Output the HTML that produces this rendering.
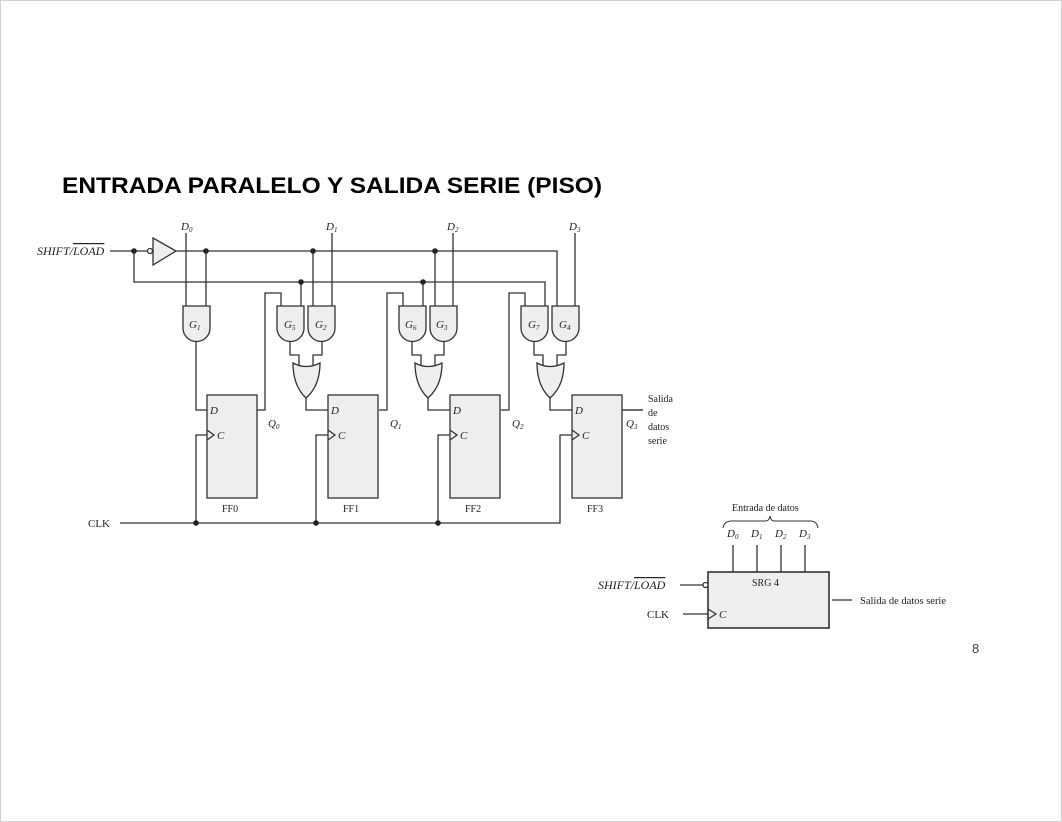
<!DOCTYPE html>
<html><head><meta charset="utf-8"><style>
html,body{margin:0;padding:0;background:#fff;}
svg{display:block;}
.t{font-family:"Liberation Serif",serif;fill:#222;}
.i{font-style:italic;}
</style></head><body>
<svg width="1062" height="822" viewBox="0 0 1062 822" xmlns="http://www.w3.org/2000/svg">
<rect x="0.5" y="0.5" width="1061" height="821" fill="#fff" stroke="#d0d0d0"/>
<text x="62" y="193" font-family="Liberation Sans, sans-serif" font-weight="bold" font-size="22" textLength="540" lengthAdjust="spacingAndGlyphs" fill="#000">ENTRADA PARALELO Y SALIDA SERIE (PISO)</text>

<g stroke="#333" stroke-width="1.3" fill="none">
<path d="M110 251 H148"/>
<circle cx="150" cy="251" r="2.5" fill="#fff"/>
<path d="M153 238 L176 251 L153 265 Z" fill="#eee"/>
<path d="M176 251 H557 V306"/>
<path d="M134 251 V282 H545 V306"/>
<path d="M186 233 V306"/>
<path d="M206 251 V306"/>
<path d="M183 306 V328 A13.5 13.5 0 0 0 210 328 V306 Z" fill="#eee"/>
<path d="M196 342 V410 H207"/>
<path d="M120 523 H560 V435 H572"/>
<path d="M196 523 V435 H207"/>
<rect x="207" y="395" width="50" height="103" fill="#eee"/>
<path d="M207 430 L214 435 L207 440"/>
</g>
<g>
<g stroke="#333" stroke-width="1.3" fill="none">
<path d="M257 410 H265 V293 H281 V306"/>
<path d="M332 233 V306"/>
<path d="M277 306 V328 A13.5 13.5 0 0 0 304 328 V306 Z" fill="#eee"/>
<path d="M308 306 V328 A13.5 13.5 0 0 0 335 328 V306 Z" fill="#eee"/>
<path d="M290 342 V355 H299 V366"/>
<path d="M322 342 V355 H313 V366"/>
<path d="M293 363 Q306 370 320 363 Q320 386 306 398 Q293 386 293 363 Z" fill="#eee"/>
<path d="M306 398 V410 H328"/>
<path d="M316 523 V435 H328"/>
<rect x="328" y="395" width="50" height="103" fill="#eee"/>
<path d="M328 430 L335 435 L328 440"/>
</g>
</g>
<g transform="translate(122,0)">
<g stroke="#333" stroke-width="1.3" fill="none">
<path d="M257 410 H265 V293 H281 V306"/>
<path d="M331 233 V306"/>
<path d="M277 306 V328 A13.5 13.5 0 0 0 304 328 V306 Z" fill="#eee"/>
<path d="M308 306 V328 A13.5 13.5 0 0 0 335 328 V306 Z" fill="#eee"/>
<path d="M290 342 V355 H299 V366"/>
<path d="M322 342 V355 H313 V366"/>
<path d="M293 363 Q306 370 320 363 Q320 386 306 398 Q293 386 293 363 Z" fill="#eee"/>
<path d="M306 398 V410 H328"/>
<path d="M316 523 V435 H328"/>
<rect x="328" y="395" width="50" height="103" fill="#eee"/>
<path d="M328 430 L335 435 L328 440"/>
<path d="M301 282 V306 M313 251 V306"/>
</g></g>
<g transform="translate(244,0)">
<g stroke="#333" stroke-width="1.3" fill="none">
<path d="M257 410 H265 V293 H281 V306"/>
<path d="M331 233 V306"/>
<path d="M277 306 V328 A13.5 13.5 0 0 0 304 328 V306 Z" fill="#eee"/>
<path d="M308 306 V328 A13.5 13.5 0 0 0 335 328 V306 Z" fill="#eee"/>
<path d="M290 342 V355 H299 V366"/>
<path d="M322 342 V355 H313 V366"/>
<path d="M293 363 Q306 370 320 363 Q320 386 306 398 Q293 386 293 363 Z" fill="#eee"/>
<path d="M306 398 V410 H328"/>
<rect x="328" y="395" width="50" height="103" fill="#eee"/>
<path d="M328 430 L335 435 L328 440"/>
<path d="M378 410 H399"/>
</g></g>
<g stroke="#333" stroke-width="1.3"><path d="M301 282 V306 M313 251 V306"/></g>
<g fill="#222">
<circle cx="134" cy="251" r="2.8"/><circle cx="206" cy="251" r="2.8"/><circle cx="313" cy="251" r="2.8"/><circle cx="435" cy="251" r="2.8"/>
<circle cx="301" cy="282" r="2.8"/><circle cx="423" cy="282" r="2.8"/>
<circle cx="196" cy="523" r="2.8"/><circle cx="316" cy="523" r="2.8"/><circle cx="438" cy="523" r="2.8"/>
</g>
<g class="t" font-size="11">
<text x="37" y="255" class="i" font-size="12">SHIFT/<tspan text-decoration="overline">LOAD</tspan></text>
<text x="88" y="527">CLK</text>
<text x="181" y="230" class="i">D<tspan font-size="7" dy="2">0</tspan></text>
<text x="326" y="230" class="i">D<tspan font-size="7" dy="2">1</tspan></text>
<text x="447" y="230" class="i">D<tspan font-size="7" dy="2">2</tspan></text>
<text x="569" y="230" class="i">D<tspan font-size="7" dy="2">3</tspan></text>
<text x="189" y="328" class="i">G<tspan font-size="7" dy="2">1</tspan></text>
<text x="284" y="328" class="i">G<tspan font-size="7" dy="2">5</tspan></text>
<text x="315" y="328" class="i">G<tspan font-size="7" dy="2">2</tspan></text>
<text x="405" y="328" class="i">G<tspan font-size="7" dy="2">6</tspan></text>
<text x="436" y="328" class="i">G<tspan font-size="7" dy="2">3</tspan></text>
<text x="528" y="328" class="i">G<tspan font-size="7" dy="2">7</tspan></text>
<text x="559" y="328" class="i">G<tspan font-size="7" dy="2">4</tspan></text>
<text x="210" y="414" class="i">D</text><text x="217" y="439" class="i">C</text>
<text x="331" y="414" class="i">D</text><text x="338" y="439" class="i">C</text>
<text x="453" y="414" class="i">D</text><text x="460" y="439" class="i">C</text>
<text x="575" y="414" class="i">D</text><text x="582" y="439" class="i">C</text>
<text x="268" y="427" class="i">Q<tspan font-size="7" dy="2">0</tspan></text>
<text x="390" y="427" class="i">Q<tspan font-size="7" dy="2">1</tspan></text>
<text x="512" y="427" class="i">Q<tspan font-size="7" dy="2">2</tspan></text>
<text x="626" y="427" class="i">Q<tspan font-size="7" dy="2">3</tspan></text>
<text x="222" y="512" font-size="10">FF0</text>
<text x="343" y="512" font-size="10">FF1</text>
<text x="465" y="512" font-size="10">FF2</text>
<text x="587" y="512" font-size="10">FF3</text>
<text x="648" y="402" font-size="10">Salida</text>
<text x="648" y="416" font-size="10">de</text>
<text x="648" y="430" font-size="10">datos</text>
<text x="648" y="444" font-size="10">serie</text>
</g>
<path d="M622 410 H643" stroke="#333" stroke-width="1.3"/>

<g stroke="#333" stroke-width="1.3" fill="none">
<rect x="708" y="572" width="121" height="56" fill="#eee" stroke-width="1.6"/>
<path d="M733 545 V572 M757 545 V572 M781 545 V572 M805 545 V572"/>
<path d="M680 585 H703"/>
<circle cx="705.5" cy="585" r="2.5" fill="#fff"/>
<path d="M683 614 H708"/>
<path d="M708 609 L716 614 L708 619"/>
<path d="M832 600 H852"/>
<path d="M723 528 Q724 521 732 521 H766 Q769 521 770 516 Q771 521 774 521 H810 Q817 521 818 528" stroke-width="1"/>
</g>
<g class="t" font-size="11">
<text x="732" y="511" font-size="10">Entrada de datos</text>
<text x="727" y="537" class="i">D<tspan font-size="7" dy="2">0</tspan></text>
<text x="751" y="537" class="i">D<tspan font-size="7" dy="2">1</tspan></text>
<text x="775" y="537" class="i">D<tspan font-size="7" dy="2">2</tspan></text>
<text x="799" y="537" class="i">D<tspan font-size="7" dy="2">3</tspan></text>
<text x="752" y="586" font-size="10">SRG 4</text>
<text x="719" y="618" class="i">C</text>
<text x="598" y="589" class="i" font-size="12">SHIFT/<tspan text-decoration="overline">LOAD</tspan></text>
<text x="647" y="618">CLK</text>
<text x="860" y="604" font-size="10.5">Salida de datos serie</text>
</g>
<text x="972" y="653" font-family="Liberation Sans, sans-serif" font-size="13" fill="#444">8</text>
</svg>
</body></html>
